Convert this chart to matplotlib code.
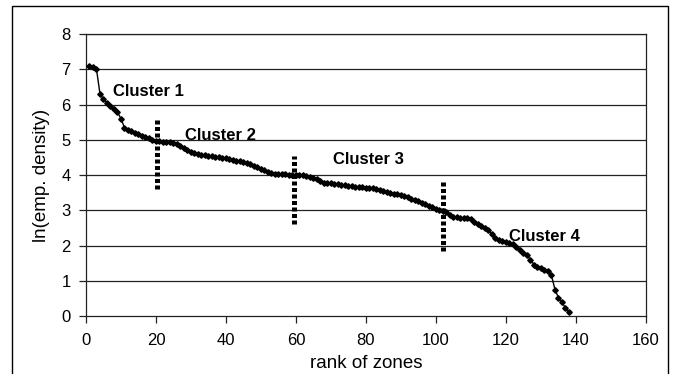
import matplotlib.pyplot as plt
from matplotlib.patches import Rectangle

plt.rcParams['font.family'] = ['Liberation Sans', 'DejaVu Sans']

# ln(employment density) of zones, sorted by rank 1..138
density = [7.10, 7.06, 7.00, 6.30, 6.15, 6.04, 5.95, 5.88, 5.78, 5.60,
           5.34, 5.29, 5.24, 5.20, 5.16, 5.12, 5.08, 5.04, 5.00, 4.97,
           4.96, 4.95, 4.94, 4.93, 4.91, 4.88, 4.83, 4.78, 4.72, 4.66,
           4.62, 4.59, 4.58, 4.56, 4.55, 4.54, 4.52, 4.50, 4.48, 4.47,
           4.45, 4.43, 4.41, 4.39, 4.37, 4.34, 4.31, 4.27, 4.22, 4.17,
           4.13, 4.09, 4.06, 4.04, 4.03, 4.02, 4.02, 4.01, 4.01, 4.00,
           4.00, 3.99, 3.96, 3.94, 3.92, 3.90, 3.82, 3.78, 3.77, 3.76,
           3.75, 3.74, 3.73, 3.72, 3.70, 3.68, 3.67, 3.66, 3.65, 3.64,
           3.63, 3.62, 3.60, 3.58, 3.55, 3.53, 3.50, 3.47, 3.45, 3.43,
           3.40, 3.37, 3.32, 3.28, 3.25, 3.21, 3.17, 3.13, 3.09, 3.05,
           3.02, 2.99, 2.94, 2.88, 2.81, 2.80, 2.79, 2.78, 2.77, 2.76,
           2.66, 2.60, 2.56, 2.50, 2.43, 2.32, 2.20, 2.15, 2.12, 2.10,
           2.07, 2.03, 1.96, 1.88, 1.80, 1.73, 1.59, 1.46, 1.40, 1.36,
           1.32, 1.28, 1.15, 0.75, 0.52, 0.40, 0.22, 0.12]
ranks = list(range(1, len(density) + 1))

# cluster boundaries (rank, y from, y to)
split_x = [20.2, 59.5, 102.1]
split_lo = [3.6, 2.6, 1.85]
split_hi = [5.55, 4.55, 3.8]

cluster_labels = ['Cluster 1', 'Cluster 2', 'Cluster 3', 'Cluster 4']
label_x = [7.7, 28.3, 70.6, 120.9]
label_y = [6.38, 5.13, 4.43, 2.27]

fig = plt.figure(figsize=(6.75, 3.74), dpi=100)
ax = fig.add_axes([0.1274, 0.155, 0.8296, 0.754])

for y in range(1, 9):
    ax.axhline(y, color='#222222', lw=0.9, zorder=1)

ax.plot(ranks, density, color='black', lw=1, marker='D', markersize=2.8,
        zorder=3)

for x, lo, hi in zip(split_x, split_lo, split_hi):
    ax.plot([x, x], [lo, hi], color='black', lw=3.6, dashes=(0.8, 0.5),
            solid_capstyle='butt', dash_capstyle='butt', zorder=4)

for t, x, y in zip(cluster_labels, label_x, label_y):
    ax.text(x, y, t, fontsize=12, fontweight='bold', va='center', ha='left',
            zorder=5)

ax.set_xlim(0, 160)
ax.set_ylim(0, 8)
ax.set_xticks(range(0, 161, 20))
ax.set_yticks(range(0, 9))
ax.tick_params(direction='out', length=5, width=0.9, labelsize=12,
               color='#222222')
ax.tick_params(axis='x', pad=7)
ax.tick_params(axis='y', pad=6)
for s in ax.spines.values():
    s.set_color('#222222')
    s.set_linewidth(0.9)

ax.set_xlabel('rank of zones', fontsize=13.5, labelpad=5)
ax.set_ylabel('ln(emp. density)', fontsize=13.5, labelpad=8)

fig.patches.append(Rectangle((12 / 675, -0.05), 656 / 675, 1.034,
                             transform=fig.transFigure, fill=False,
                             edgecolor='black', lw=1))

fig.savefig('out.png', dpi=100)
